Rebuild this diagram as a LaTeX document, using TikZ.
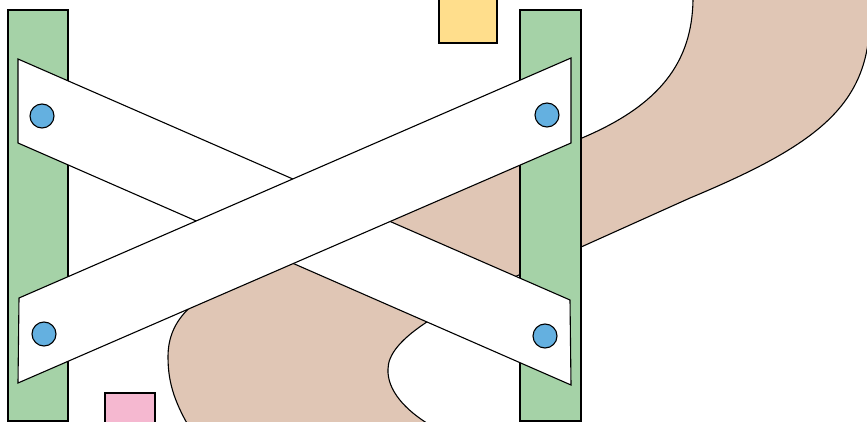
\documentclass[tikz,border=0pt]{standalone}
\definecolor{postgreen}{RGB}{165,210,167}
\definecolor{ribbonbrown}{RGB}{224,198,181}
\definecolor{boltblue}{RGB}{100,176,224}
\definecolor{boxyellow}{RGB}{255,222,140}
\definecolor{boxpink}{RGB}{245,184,208}

\begin{document}
\begin{tikzpicture}[x=1pt,y=-1pt,line width=1.1pt,
  postbox/.style={draw, fill=postgreen}, barbox/.style={draw, fill=white},
  boltdot/.style={draw, fill=boltblue}, ribbon/.style={draw, fill=ribbonbrown}]
\clip (0,0) rectangle (867,422);
\draw[ribbon] (693,-10) -- (693,0) .. controls (692,62) and (660,105) .. (582,138) -- (520,157) -- (255,270)
  .. controls (195,295) and (168,318) .. (168,357) .. controls (168,385) and (176,405) .. (192,432) -- (195,440)
  -- (445,440) -- (430,425) .. controls (405,410) and (387,390) .. (388,369)
  .. controls (388,340) and (440,310) .. (510,279) -- (690,198) .. controls (810,148) and (862,110) .. (869,35)
  -- (875,-10) -- cycle;
\draw[fill=boxyellow] (439,-5) rectangle (497,43);
\draw[fill=boxpink] (105,393) rectangle (155,430);
\draw[postbox] (8,10) rectangle (68,421);
\draw[postbox] (520,10) rectangle (581,421);
\coordinate (FL) at (42,116); \coordinate (FR) at (545,336); \coordinate (RL) at (44,334); \coordinate (RR) at (547,115);
\draw[barbox] (18,59) -- (570,300) -- (571,385) -- (18,143) -- cycle;
\draw[barbox] (19,298) -- (571,58) -- (571,143) -- (18,383) -- cycle;
\foreach \b in {FL,FR,RL,RR} \draw[boltdot] (\b) circle (12);
\end{tikzpicture}
\end{document}
